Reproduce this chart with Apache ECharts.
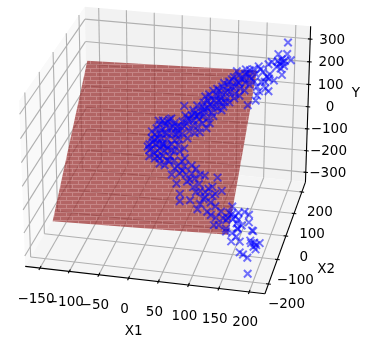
<!DOCTYPE html>
<html>
<head>
<meta charset="utf-8">
<style>
html,body{margin:0;background:#fff}
#chart{width:366px;height:346px}
</style>
<script src="https://cdn.jsdelivr.net/npm/echarts@6/dist/echarts.min.js"></script>
</head>
<body>
<div id="chart"></div>
<script>
var x1Ticks = [-150, -100, -50, 0, 50, 100, 150, 200];
var x2Ticks = [-200, -100, 0, 100, 200];
var yTicks = [-300, -200, -100, 0, 100, 200, 300];

var x1Range = [-175.3, 225.7];
var x2Range = [-238.6, 247.1];
var yRange = [-345.6, 355.1];

// fitted plane
var planeX1 = [-148.8, 149.3];
var planeX2 = [-146, 142.4];
var planeY = [[-236.1, -210.5], [206.9, 232.5]]; // rows x2 low/high, cols x1 low/high

var x1Values = [194,181,196,204,188,186,194,189,182,191,193,172,167,151,155,172,172,181,166,175,169,159,157,156,144,168,160,148,160,148,154,137,
138,130,126,120,119,133,140,109,117,110,104,126,119,102,95,134,107,94,88,81,93,80,79,89,103,69,72,71,63,80,73,85,58,36,53,49,57,41,38,65,46,57,53,60,65,
13,4,18,0,25,12,20,33,36,31,42,23,-4,11,-3,39,52,63,
11,1,-6,18,27,8,1,-6,17,34,38,54,28,7,-7,14,0,29,43,8,31,-5,13,3,22,29,50,37,68,50,71,77,48,65,93,115,126,57,59,76,83,99,98,112,120,91,108,124,123,136,144,145,148,160,144,153,160,178,180,169,164,156,157,164,190,188,195,204,199,171,174,180,188,193,
122,112,130,105,112,97,87,75,86,76,68,66,73,52,46,15,8,24,31,34,16,3,-3,6,19,5,-11,16,37,56,44,61,69,86,90,103,100,111,94,131,145,156,142,149,162,170,163,190,195,199,188,182,194,97,115,130,
101,89,81,71,85,94,112,119,105,127,67,56,84,74,91,105,98,133,143,143,-9,-9,-13,21,11,25,40,54,76,85,77,109,116,50,5,-11,43,115,131];
var x2Values = [196,174,175,164,165,156,153,148,161,160,137,159,155,150,145,137,129,126,123,106,111,105,97,88,79,132,140,136,122,122,113,142,
130,135,125,132,120,119,116,124,111,101,113,108,98,99,109,105,89,95,93,101,84,87,76,73,74,90,67,54,57,51,42,62,73,71,64,49,46,54,43,36,40,37,27,54,63,
41,43,47,35,39,33,30,27,34,20,22,21,28,22,42,11,14,24,
2,11,3,10,2,-7,-16,-8,-11,-10,1,-21,-20,-21,-22,-1,0,-9,-10,11,9,17,-33,-25,-36,-28,-27,-51,-33,-48,-47,-55,-66,-61,-49,-51,-73,-83,-96,-93,-78,-77,-89,-83,-100,-107,-110,-119,-132,-119,-136,-141,-98,-108,-118,-119,-126,-110,-123,-129,-138,-147,-161,-152,-141,-157,-167,-160,-171,-160,-178,-181,-186,-212,
118,128,126,103,110,116,105,94,84,69,79,49,62,55,49,45,38,33,34,22,20,19,7,2,-2,-11,-1,-20,-26,-35,-36,-49,-58,-64,-76,-71,-86,-94,-98,-108,-109,-114,-122,-112,-120,-106,-134,-161,-160,-164,-140,151,162,88,139,143,
67,56,34,26,43,70,82,90,82,95,72,59,73,83,102,119,81,137,127,144,-11,10,-5,-6,-24,-27,-40,-43,-38,-48,-70,-67,-79,-4,25,22,35,-115,-131];
var yValues = [319,284,287,271,271,257,253,245,264,263,228,260,253,244,237,226,214,210,204,179,186,176,164,150,135,218,230,223,202,201,188,231,
213,220,204,214,196,195,191,201,182,166,184,178,162,162,177,174,147,155,151,163,138,142,125,121,124,145,110,90,94,86,72,104,118,113,104,81,77,88,70,62,66,63,47,89,103,
65,67,75,55,63,53,49,45,56,34,38,35,44,36,65,21,27,43,
5,18,5,18,6,-9,-24,-12,-14,-11,6,-27,-27,-31,-33,1,1,-10,-11,19,18,27,-49,-37,-52,-40,-36,-74,-44,-68,-65,-77,-96,-87,-66,-67,-100,-122,-141,-135,-112,-109,-127,-117,-142,-156,-159,-171,-191,-170,-196,-203,-137,-151,-168,-169,-179,-153,-172,-183,-190,-201,-222,-208,-189,-214,-228,-217,-234,-220,-247,-251,-258,-298,
193,207,206,168,180,188,170,152,137,114,128,82,103,90,80,71,60,54,56,38,33,30,12,5,0,-16,-1,-28,-36,-48,-51,-69,-82,-90,-108,-99,-122,-134,-141,-154,-154,-161,-174,-158,-169,-147,-191,-220,-218,-223,-188,249,267,145,224,232,
113,95,60,47,74,117,137,149,136,158,117,96,120,135,166,193,134,223,208,235,-17,16,-8,-6,-35,-38,-57,-60,-51,-65,-100,-93,-110,-1,40,34,58,-166,-189];

// camera, same maths as a matplotlib 3d axes
var box = [1.1905, 1.1905, 0.8929];
var elev = 26.21 * Math.PI / 180, azim = -77.22 * Math.PI / 180;
var scale = 2003.17, cx = 170.85, cy = 143.88, dist = 10;

var w = [Math.cos(elev) * Math.cos(azim), Math.cos(elev) * Math.sin(azim), Math.sin(elev)];
var n = Math.hypot(w[0], w[1]);
var u = [-w[1] / n, w[0] / n, 0];
var v = [w[1] * u[2] - w[2] * u[1], w[2] * u[0] - w[0] * u[2], w[0] * u[1] - w[1] * u[0]];

function project(a, b, c) {
    var p = [
        ((a - x1Range[0]) / (x1Range[1] - x1Range[0]) - .5) * box[0],
        ((b - x2Range[0]) / (x2Range[1] - x2Range[0]) - .5) * box[1],
        ((c - yRange[0]) / (yRange[1] - yRange[0]) - .5) * box[2]
    ];
    var xe = p[0] * u[0] + p[1] * u[1] + p[2] * u[2];
    var ye = p[0] * v[0] + p[1] * v[1] + p[2] * v[2];
    var ze = p[0] * w[0] + p[1] * w[1] + p[2] * w[2] - dist;
    return [cx + scale * xe / -ze, cy - scale * ye / -ze];
}

var xa = x1Range[0], xb = x1Range[1], ya = x2Range[0], yb = x2Range[1], za = yRange[0], zb = yRange[1];

function polySeries(polys) {
    return {
        type: 'custom', silent: true, coordinateSystem: 'cartesian2d', clip: false,
        data: polys.map(function (p, i) { return [i]; }),
        renderItem: function (params, api) {
            var p = polys[params.dataIndex];
            return {
                type: 'polygon',
                shape: { points: p.points.map(function (q) { return api.coord(project(q[0], q[1], q[2])); }) },
                style: p.style
            };
        }
    };
}

function segSeries(segs, color, width) {
    return {
        type: 'custom', silent: true, coordinateSystem: 'cartesian2d', clip: false,
        data: segs.map(function (s, i) { return [i]; }),
        renderItem: function (params, api) {
            var s = segs[params.dataIndex];
            var a = api.coord(project(s[0][0], s[0][1], s[0][2]));
            var b = api.coord(project(s[1][0], s[1][1], s[1][2]));
            return {
                type: 'line',
                shape: { x1: a[0], y1: a[1], x2: b[0], y2: b[1] },
                style: { stroke: color, lineWidth: width, fill: null }
            };
        }
    };
}

function labelText(t) {
    return String(t).replace('-', '\u2212');
}

function textSeries(items) {
    return {
        type: 'custom', silent: true, coordinateSystem: 'cartesian2d', clip: false,
        data: items.map(function (s, i) { return [i]; }),
        renderItem: function (params, api) {
            var s = items[params.dataIndex];
            var a = api.coord(project(s.at[0], s.at[1], s.at[2]));
            return {
                type: 'text',
                x: a[0] + s.dx, y: a[1] + s.dy,
                style: { text: s.text, font: '13.5px "DejaVu Sans"', fill: '#000', align: 'center', verticalAlign: 'middle' }
            };
        }
    };
}

// panes
var panes = [
    { points: [[xa, ya, za], [xa, yb, za], [xa, yb, zb], [xa, ya, zb]], style: { fill: '#f9f9f9' } },
    { points: [[xa, yb, za], [xb, yb, za], [xb, yb, zb], [xa, yb, zb]], style: { fill: '#f2f2f2' } },
    { points: [[xa, ya, za], [xb, ya, za], [xb, yb, za], [xa, yb, za]], style: { fill: '#f5f5f5' } }
];

var gridSegs = [];
x1Ticks.forEach(function (t) {
    gridSegs.push([[t, ya, za], [t, yb, za]], [[t, yb, za], [t, yb, zb]]);
});
x2Ticks.forEach(function (t) {
    gridSegs.push([[xa, t, za], [xb, t, za]], [[xa, t, za], [xa, t, zb]]);
});
yTicks.forEach(function (t) {
    gridSegs.push([[xa, yb, t], [xb, yb, t]], [[xa, ya, t], [xa, yb, t]]);
});

var axisSegs = [
    [[xa, ya, za], [xb, ya, za]],
    [[xb, ya, za], [xb, yb, za]],
    [[xb, yb, za], [xb, yb, zb]]
];
x1Ticks.forEach(function (t) { axisSegs.push([[t, ya - 8, za], [t, ya + 8, za]]); });
x2Ticks.forEach(function (t) { axisSegs.push([[xb - 4, t, za], [xb + 4, t, za]]); });
yTicks.forEach(function (t) { axisSegs.push([[xb - 4, yb, t], [xb + 4, yb, t]]); });

var labels = [];
x1Ticks.forEach(function (t) { labels.push({ at: [t, ya, za], dx: -4, dy: 31, text: labelText(t) }); });
x2Ticks.forEach(function (t) { labels.push({ at: [xb, t, za], dx: 18, dy: 21, text: labelText(t) }); });
yTicks.forEach(function (t) { labels.push({ at: [xb, yb, t], dx: 22, dy: 1, text: labelText(t) }); });
labels.push({ at: [(xa + xb) / 2, ya, za], dx: -10, dy: 52, text: 'X1' });
labels.push({ at: [xb, (ya + yb) / 2, za], dx: 40, dy: 34, text: 'X2' });
labels.push({ at: [xb, yb, (za + zb) / 2], dx: 48, dy: -12, text: 'Y' });

// brick look of the surface
var tile = document.createElement('canvas');
tile.width = 12; tile.height = 8;
var tc = tile.getContext('2d');
tc.fillStyle = '#9c3434';
tc.fillRect(0, 0, 12, 8);
tc.fillStyle = '#b66060';
tc.fillRect(0, 0, 12, 1);
tc.fillRect(0, 4, 12, 1);
tc.fillRect(0, 1, 1, 3);
tc.fillRect(6, 5, 1, 3);

var surface = [{
    points: [
        [planeX1[0], planeX2[0], planeY[0][0]],
        [planeX1[1], planeX2[0], planeY[0][1]],
        [planeX1[1], planeX2[1], planeY[1][1]],
        [planeX1[0], planeX2[1], planeY[1][0]]
    ],
    style: { fill: { image: tile, repeat: 'repeat' }, opacity: 0.75 }
}];

var points = x1Values.map(function (a, i) {
    return project(a, x2Values[i], yValues[i]);
});

var chart = echarts.init(document.getElementById('chart'));
chart.setOption({
    animation: false,
    grid: { left: 0, right: 0, top: 0, bottom: 0 },
    xAxis: { type: 'value', min: 0, max: 366, show: false },
    yAxis: { type: 'value', min: 0, max: 346, inverse: true, show: false },
    series: [
        polySeries(panes),
        segSeries(gridSegs, '#b0b0b0', 1.1),
        polySeries(surface),
        segSeries(axisSegs, '#000', 1.1),
        textSeries(labels),
        {
            type: 'scatter', silent: true,
            data: points,
            symbol: 'path://M0 0L10 10M10 0L0 10',
            symbolSize: 7.5,
            itemStyle: { color: 'transparent', borderColor: '#0000ff', borderWidth: 2, opacity: 0.55 }
        }
    ]
});
</script>
</body>
</html>
